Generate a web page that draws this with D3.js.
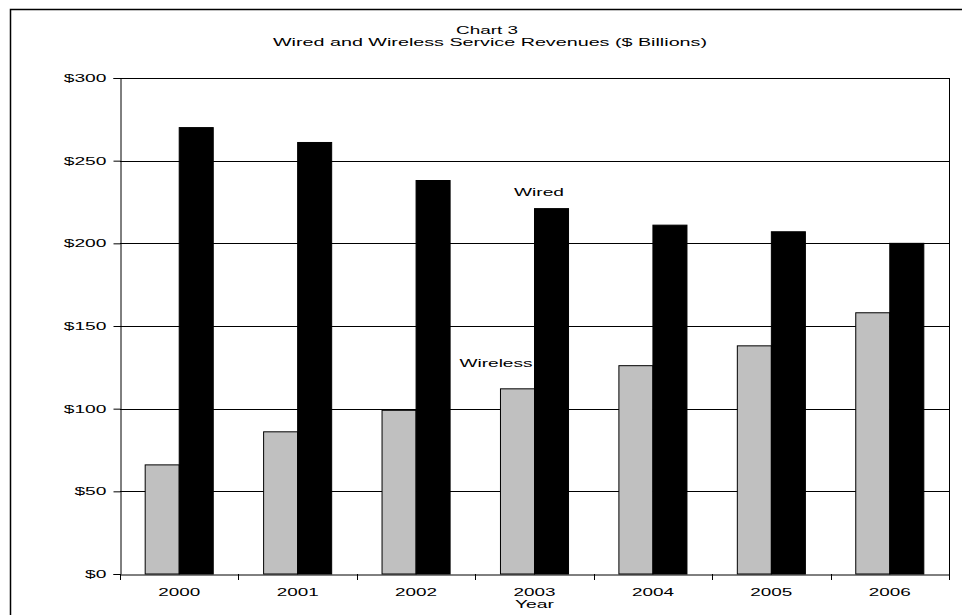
<!DOCTYPE html>
<html>
<head>
<meta charset="utf-8">
<script src="https://cdn.jsdelivr.net/npm/d3@7"></script>
<style>
  body { margin: 0; background: #fff; }
  svg text { font-family: "Liberation Sans", Arial, sans-serif; font-size: 11px; fill: #000; }
</style>
</head>
<body>
<svg id="chart" width="962" height="615"></svg>
<script>
// Data
const years = ["2000", "2001", "2002", "2003", "2004", "2005", "2006"];
const series = ["Wireless", "Wired"];
const wireless = [66, 86, 99, 112, 126, 138, 158];
const wired = [270, 261, 238, 221, 211, 207, 200];
const yTicks = [0, 50, 100, 150, 200, 250, 300];

const svg = d3.select('#chart');

// Plot area
const plotLeft = 120, plotRight = 949, plotTop = 78, plotBottom = 574;

// Outer chart border
svg.append('rect')
    .attr('x', 10.5).attr('y', 9.5)
    .attr('width', 970).attr('height', 620)
    .attr('fill', 'none').attr('stroke', '#000').attr('stroke-width', 1.5);

const x = d3.scaleBand().domain(years).range([plotLeft, plotRight]).paddingInner(0).paddingOuter(0);
const xInner = d3.scaleBand().domain(series).range([0, x.bandwidth()]).paddingInner(0).paddingOuter(0.74);
const y = d3.scaleLinear().domain([0, 300]).range([plotBottom, plotTop]);

// Gridlines
svg.append('g').selectAll('line')
    .data(yTicks.filter(d => d > 0))
    .enter().append('line')
    .attr('x1', plotLeft).attr('x2', plotRight)
    .attr('y1', d => Math.round(y(d)) + 0.5).attr('y2', d => Math.round(y(d)) + 0.5)
    .attr('stroke', '#000');

// Right border of plot area
svg.append('line')
    .attr('x1', plotRight + 0.5).attr('x2', plotRight + 0.5)
    .attr('y1', plotTop).attr('y2', plotBottom)
    .attr('stroke', '#000');

// Bars
const rows = years.map((yr, i) => ({ year: yr, Wireless: wireless[i], Wired: wired[i] }));
const colors = { Wireless: '#c0c0c0', Wired: '#000' };

svg.append('g').selectAll('g')
    .data(rows)
    .enter().append('g')
    .attr('transform', d => `translate(${x(d.year)},0)`)
    .selectAll('rect')
    .data(d => series.map(s => ({ key: s, value: d[s] })))
    .enter().append('rect')
    .attr('x', d => xInner(d.key))
    .attr('y', d => y(d.value))
    .attr('width', xInner.bandwidth())
    .attr('height', d => plotBottom - y(d.value))
    .attr('fill', d => colors[d.key])
    .attr('stroke', '#000')
    .attr('stroke-width', 1);

// Y axis
const yAxis = svg.append('g')
    .attr('transform', `translate(${plotLeft + 0.5},0)`)
    .call(d3.axisLeft(y).tickValues(yTicks).tickSize(7).tickPadding(7).tickFormat(d => '$' + d));
yAxis.select('.domain').attr('stroke', '#000');
yAxis.selectAll('.tick line').attr('stroke', '#000');
yAxis.selectAll('text')
    .style('font-size', '11px')
    .attr('textLength', function() { return this.textContent.length * 10.7; })
    .attr('lengthAdjust', 'spacingAndGlyphs');

// X axis
const xAxis = svg.append('g')
    .attr('transform', `translate(0,${plotBottom + 0.5})`)
    .call(d3.axisBottom(x).tickSize(0).tickPadding(14));
xAxis.select('.domain').attr('stroke', '#000');
xAxis.selectAll('text')
    .style('font-size', '11px')
    .attr('textLength', 42)
    .attr('lengthAdjust', 'spacingAndGlyphs');

// Tick marks at category boundaries
svg.append('g').selectAll('line')
    .data(years.concat(['end']))
    .enter().append('line')
    .attr('x1', (d, i) => Math.round(plotLeft + i * x.step()) + 0.5)
    .attr('x2', (d, i) => Math.round(plotLeft + i * x.step()) + 0.5)
    .attr('y1', plotBottom).attr('y2', plotBottom + 6)
    .attr('stroke', '#000');

// Titles and labels
function label(txt, cx, by, len) {
    svg.append('text')
        .attr('x', cx).attr('y', by)
        .attr('text-anchor', 'middle')
        .attr('textLength', len)
        .attr('lengthAdjust', 'spacingAndGlyphs')
        .text(txt);
}
label('Chart 3', 487, 34, 62);
label('Wired and Wireless Service Revenues ($ Billions)', 490, 46, 434);
label('Year', (plotLeft + plotRight) / 2, 608, 39);
label('Wired', 539, 196, 50);
label('Wireless', 496, 367, 73);
</script>
</body>
</html>
